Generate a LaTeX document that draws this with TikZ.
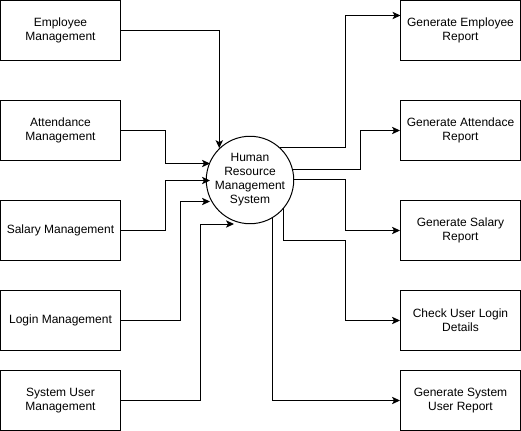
\documentclass[tikz,border=0pt]{standalone}
\usepackage{fontspec}
\setmainfont{Liberation Sans}
\usetikzlibrary{arrows.meta,calc}
\begin{document}
\begin{tikzpicture}[x=0.75pt,y=-0.75pt,
  box/.style={draw,line width=0.75pt,minimum width=90pt,minimum height=45pt,inner sep=0pt,align=center,font=\fontsize{9}{10.5}\selectfont},
  proc/.style={draw,circle,line width=0.75pt,minimum size=60pt,inner sep=0pt,align=center,font=\fontsize{9}{10.5}\selectfont},
  arr/.style={line width=0.75pt,-{Stealth[length=6pt,width=5.5pt,inset=1.5pt]}}]
\useasboundingbox (0,0) rectangle (521,431);
\fill[white] (0,0) rectangle (521,431);
% left boxes
\node[box] (l1) at (60.5,30.5) {Employee\\Management};
\node[box] (l2) at (60.5,130.5) {Attendance\\Management};
\node[box] (l3) at (60.5,230.5) {Salary Management};
\node[box] (l4) at (60.5,320.5) {Login Management};
\node[box] (l5) at (60.5,400.5) {System User\\Management};
% right boxes
\node[box] (r1) at (460.5,30.5) {Generate Employee\\Report};
\node[box] (r2) at (460.5,130.5) {Generate Attendace\\Report};
\node[box] (r3) at (460.5,230.5) {Generate Salary\\Report};
\node[box] (r4) at (460.5,320.5) {Check User Login\\Details};
\node[box] (r5) at (460.5,400.5) {Generate System\\User Report};
% centre
\node[proc] (hr) at (250,180) {Human\\Resource\\Management\\System};
% arrow end points
\coordinate (a2) at (210,163.5);
\coordinate (a3) at (210,180.5);
\coordinate (a4) at (210,201.5);
\coordinate (a5) at (234,224);
\coordinate (e1) at (400.5,15.5);
% inputs
\draw[arr] (l1.east) -| (hr.134);
\draw[arr] (l2.east) -| (165.5,163.5) -- (a2);
\draw[arr] (l3.east) -| (165.5,180.5) -- (a3);
\draw[arr] (l4.east) -| (180.5,201.5) -- (a4);
\draw[arr] (l5.east) -| (200.5,224) -- (a5);
% outputs
\draw[arr] (hr.48) -| (345.5,15.5) -- (e1);
\draw[arr] (hr.14) -| (360.5,130.5) -- (r2.west);
\draw[arr] (hr.east) -| (345.5,230.5) -- (r3.west);
\draw[arr] (hr.-40) |- (345.5,240.5) |- (r4.west);
\draw[arr] (hr.-59) |- (r5.west);
\end{tikzpicture}
\end{document}
